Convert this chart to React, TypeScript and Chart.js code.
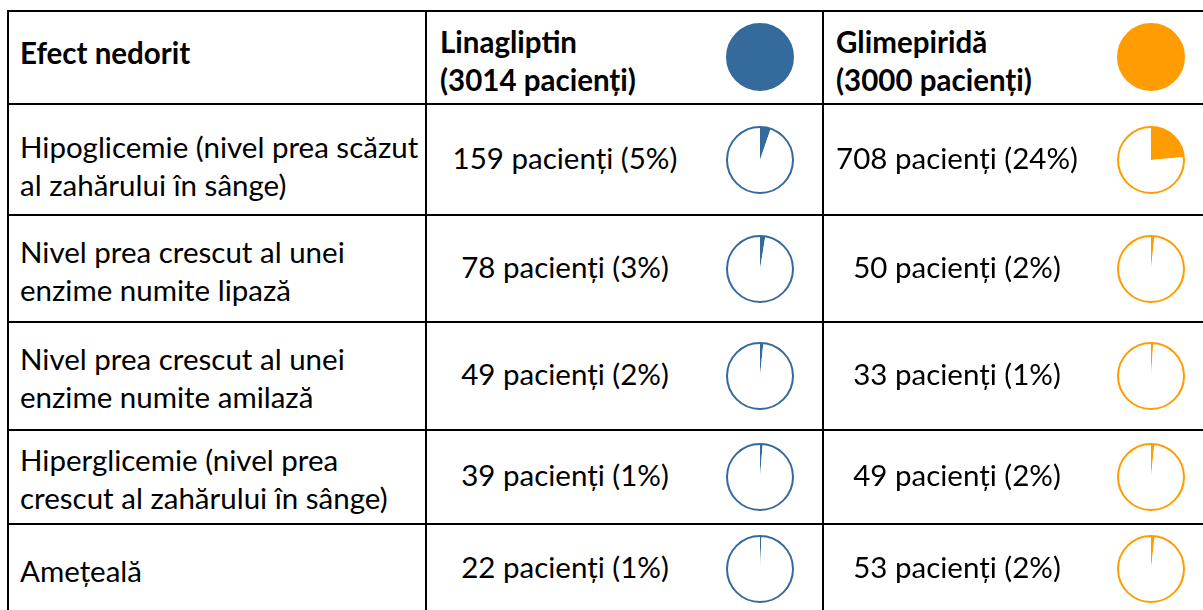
import React, { useEffect, useRef } from "react";
import { Chart, registerables } from "chart.js";

Chart.register(...registerables);

// ---------- data ----------
const effectLines: string[][] = [
  ["Hipoglicemie (nivel prea scăzut", "al zahărului în sânge)"],
  ["Nivel prea crescut al unei", "enzime numite lipază"],
  ["Nivel prea crescut al unei", "enzime numite amilază"],
  ["Hiperglicemie (nivel prea", "crescut al zahărului în sânge)"],
  ["Amețeală"],
];
const headerTitle = "Efect nedorit";
const drugNames = ["Linagliptin", "Glimepiridă"];
const drugTotals = [3014, 3000];
const linaCounts = [159, 78, 49, 39, 22];
const linaPercents = [5, 3, 2, 1, 1];
const glimCounts = [708, 50, 33, 49, 53];
const glimPercents = [24, 2, 1, 2, 2];
const drugColors = ["#356A9C", "#FF9C00"];

// ---------- layout ----------
const FONT = "Lato, 'Open Sans', sans-serif";
const FS = 29.5;
const LH = 38;
const rowLines = [10.5, 104, 215, 322, 430, 524, 613];
const colLines = [8, 426, 823];
const textCenterX = [565, 957];
const pieCenterX = [760, 1151];
const headerLeft = [440, 836];
const PIE = 72;

function Pie({ value, total, color, cx, cy }: { value: number; total: number; color: string; cx: number; cy: number }) {
  const ref = useRef<HTMLCanvasElement>(null);
  useEffect(() => {
    const outline = {
      id: "outline",
      afterDatasetsDraw(chart: any) {
        const arc: any = chart.getDatasetMeta(0).data[0];
        if (!arc) return;
        const { x, y, outerRadius } = arc.getProps(["x", "y", "outerRadius"], true);
        const ctx = chart.ctx;
        ctx.save();
        ctx.beginPath();
        ctx.arc(x, y, outerRadius, 0, Math.PI * 2);
        ctx.lineWidth = 2;
        ctx.strokeStyle = color;
        ctx.stroke();
        ctx.restore();
      },
    };
    const chart = new Chart(ref.current as HTMLCanvasElement, {
      type: "pie",
      data: {
        labels: ["cu efect", "fără efect"],
        datasets: [
          {
            data: [value, total - value],
            backgroundColor: [color, "#ffffff"],
            borderWidth: 0,
          },
        ],
      },
      options: {
        animation: false,
        responsive: false,
        events: [],
        layout: { padding: 3 },
        plugins: { legend: { display: false }, tooltip: { enabled: false } },
      },
      plugins: [outline],
    });
    return () => chart.destroy();
  }, [value, total, color]);
  return (
    <canvas
      ref={ref}
      width={PIE}
      height={PIE}
      style={{ position: "absolute", left: cx - PIE / 2, top: cy - PIE / 2, width: PIE, height: PIE }}
    />
  );
}

function Lines({ lines, left, cy, bold, center }: { lines: string[]; left: number; cy: number; bold?: boolean; center?: boolean }) {
  const h = lines.length * LH;
  return (
    <div
      style={{
        position: "absolute",
        left: center ? left - 200 : left,
        width: center ? 400 : undefined,
        top: cy - h / 2,
        fontFamily: FONT,
        fontSize: FS,
        lineHeight: LH + "px",
        fontWeight: bold ? 700 : 400,
        color: "#000",
        textAlign: center ? "center" : "left",
        whiteSpace: "nowrap",
      }}
    >
      {lines.map((l, i) => (
        <div key={i}>{l}</div>
      ))}
    </div>
  );
}

export default function App() {
  useEffect(() => {
    document.documentElement.style.overflow = "hidden";
    document.body.style.overflow = "hidden";
  }, []);
  const counts = [linaCounts, glimCounts];
  const pcts = [linaPercents, glimPercents];
  const rowCenters = rowLines.slice(1, -1).map((y, i) => (y + rowLines[i + 2]) / 2);
  return (
    <div style={{ position: "absolute", left: 0, top: 0, width: 1203, height: 610, overflow: "hidden", background: "#fff" }}>
      {rowLines.map((y, i) => (
        <div key={"h" + i} style={{ position: "absolute", left: 7, top: y - 1, width: 1300, height: 2, background: "#000" }} />
      ))}
      {colLines.map((x, i) => (
        <div key={"v" + i} style={{ position: "absolute", left: x - 1, top: 10, width: 2, height: 700, background: "#000" }} />
      ))}
      <Lines lines={[headerTitle]} left={20} cy={53} bold />
      {drugNames.map((n, d) => (
        <React.Fragment key={n}>
          <Lines lines={[n, `(${drugTotals[d]} pacienți)`]} left={headerLeft[d]} cy={61} bold />
          <Pie value={drugTotals[d]} total={drugTotals[d]} color={drugColors[d]} cx={pieCenterX[d]} cy={57} />
        </React.Fragment>
      ))}
      {effectLines.map((lines, r) => (
        <React.Fragment key={r}>
          <Lines lines={lines} left={20} cy={rowCenters[r] + (r === 0 ? 6 : 2)} />
          {[0, 1].map((d) => (
            <React.Fragment key={d}>
              <Lines
                lines={[`${counts[d][r]} pacienți (${pcts[d][r]}%)`]}
                left={textCenterX[d]}
                cy={rowCenters[r] - 2}
                center
              />
              <Pie value={counts[d][r]} total={drugTotals[d]} color={drugColors[d]} cx={pieCenterX[d]} cy={rowCenters[r]} />
            </React.Fragment>
          ))}
        </React.Fragment>
      ))}
    </div>
  );
}
